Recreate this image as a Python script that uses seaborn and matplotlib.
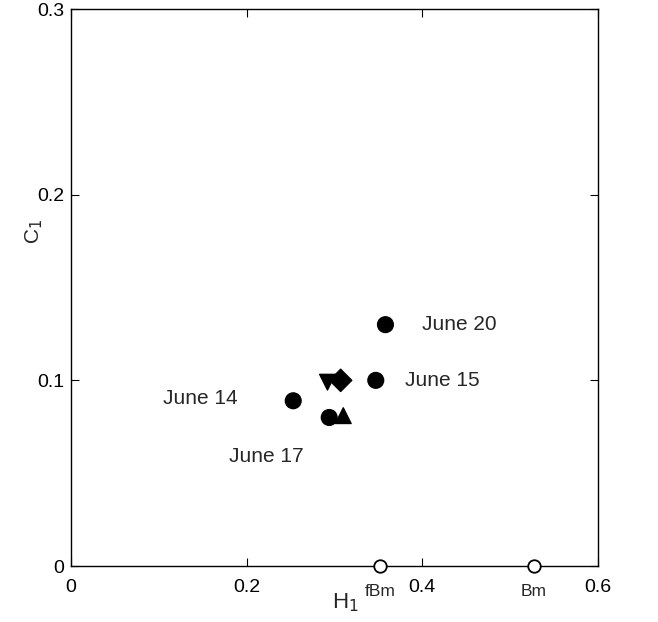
import numpy as np
import pandas as pd
import matplotlib as mpl
mpl.use("Agg")
import matplotlib.pyplot as plt
import seaborn as sns

# measured points
h1 = [0.358, 0.347, 0.253, 0.294, 0.310, 0.292, 0.307]
c1 = [0.130, 0.100, 0.089, 0.080, 0.081, 0.099, 0.100]
shape = ["o", "o", "o", "o", "^", "v", "D"]

# reference processes on the H axis
ref_h = [0.352, 0.527]
ref_c = [0.0, 0.0]
ref_names = ["fBm", "Bm"]

day_labels = ["June 20", "June 15", "June 14", "June 17"]
day_x = [0.400, 0.380, 0.105, 0.180]
day_y = [0.130, 0.100, 0.090, 0.059]

sns.set_style("ticks")
plt.rcParams['font.family'] = ['Liberation Sans', 'DejaVu Sans']

fig = plt.figure(figsize=(6.58, 6.22), dpi=100)
ax = fig.add_axes([0.1079, 0.0900, 0.8009, 0.8955])

df = pd.DataFrame({"H1": h1, "C1": c1, "shape": shape})
sns.scatterplot(data=df, x="H1", y="C1", style="shape",
                markers={"o": "o", "^": "^", "v": "v", "D": "D"},
                color="black", s=130, edgecolor="black", legend=False,
                ax=ax, zorder=3, clip_on=False)

ax.plot(ref_h, ref_c, "o", mfc="white", mec="black", ms=9, mew=1.3,
        ls="none", clip_on=False, zorder=4)
for x, name in zip(ref_h, ref_names):
    ax.text(x, -0.0135, name, ha="center", va="center", fontsize=12.5)

for lab, x, y in zip(day_labels, day_x, day_y):
    ax.text(x, y, lab, ha="left", va="center", fontsize=15)

ax.set_xlim(0, 0.6)
ax.set_ylim(0, 0.3)
ax.set_xticks([0, 0.2, 0.4, 0.6])
ax.set_xticklabels(["0", "0.2", "0.4", "0.6"])
ax.set_yticks([0, 0.1, 0.2, 0.3])
ax.set_yticklabels(["0", "0.1", "0.2", "0.3"])
ax.tick_params(direction="in", top=True, right=True, length=6, width=0.8,
               labelsize=14, colors="black")
ax.tick_params(axis="x", pad=9)
ax.tick_params(axis="y", pad=5)
for sp in ax.spines.values():
    sp.set_linewidth(1.0)
    sp.set_color("black")

ax.set_xlabel("H$_1$", fontsize=16)
ax.set_ylabel("C$_1$", fontsize=15)
ax.xaxis.set_label_coords(0.52, -0.045)
ax.yaxis.set_label_coords(-0.05, 0.60)

fig.savefig("out.png", dpi=100)
